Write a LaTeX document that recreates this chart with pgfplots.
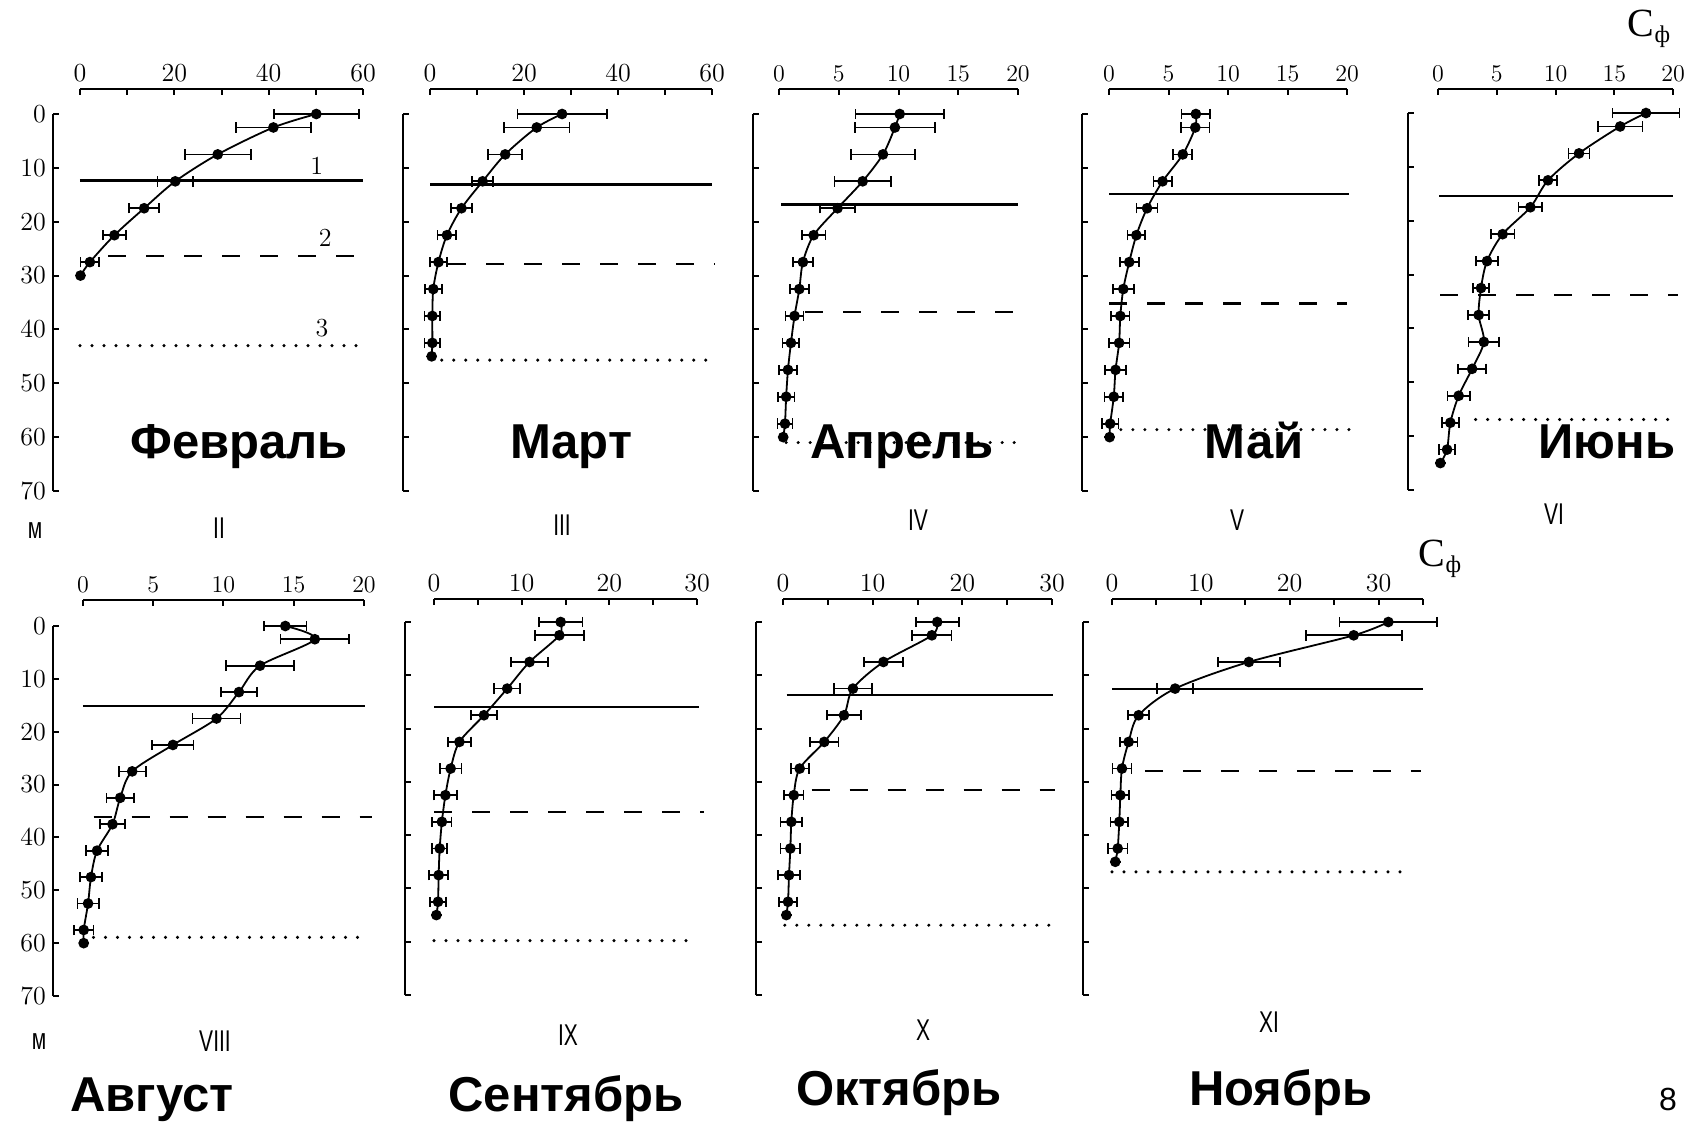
\documentclass[border=0pt]{standalone}
\usepackage{pgfplots}
\usepackage{pgfplotstable}
\pgfplotsset{compat=1.18}
\usepackage{fontspec}
\newfontfamily\sansf{Liberation Sans}
\newfontfamily\seriff{Liberation Serif}

\pgfplotstableread{
x d e
50.1 0 9.0
41.0 2.5 7.9
29.2 7.5 7.0
20.2 12.5 3.8
13.6 17.5 3.2
7.3 22.5 2.4
2.1 27.5 2.0
0.1 30 0
}\Feb
\pgfplotstableread{
x d e
28.1 0 9.5
22.7 2.5 7.0
16.0 7.5 3.6
11.2 12.5 2.2
6.7 17.5 2.3
3.6 22.5 2.0
1.8 27.5 1.8
0.7 32.5 1.8
0.5 37.5 1.7
0.5 42.5 1.7
0.35 45 0
}\Mar
\pgfplotstableread{
x d e
10.1 0 3.7
9.7 2.5 3.35
8.7 7.5 2.7
7.0 12.5 2.35
4.9 17.5 1.45
2.9 22.5 1.0
2.0 27.5 0.85
1.7 32.5 0.8
1.3 37.5 0.75
1.0 42.5 0.7
0.75 47.5 0.77
0.6 52.5 0.7
0.5 57.5 0.63
0.35 60 0
}\Apr
\pgfplotstableread{
x d e
7.3 0 1.2
7.25 2.5 1.2
6.2 7.5 0.8
4.5 12.5 0.77
3.2 17.5 0.88
2.3 22.5 0.75
1.7 27.5 0.8
1.2 32.5 0.88
0.95 37.5 0.77
0.85 42.5 0.87
0.55 47.5 0.87
0.4 52.5 0.77
0.1 57.5 0.7
0.05 60 0
}\May
\pgfplotstableread{
x d e
17.7 0 2.85
15.5 2.5 1.9
12.0 7.5 0.9
9.36 12.5 0.75
7.86 17.5 1.0
5.5 22.5 1.0
4.17 27.5 0.92
3.66 32.5 0.67
3.46 37.5 0.9
3.9 42.5 1.3
2.9 47.5 1.2
1.76 52.5 0.95
1.05 57.5 0.74
0.77 62.5 0.68
0.2 65 0
}\Jun
\pgfplotstableread{
x d e
14.4 0 1.5
16.5 2.5 2.45
12.6 7.5 2.4
11.1 12.5 1.3
9.5 17.5 1.7
6.4 22.5 1.47
3.5 27.5 0.96
2.65 32.5 0.97
2.1 37.5 0.9
1.0 42.5 0.78
0.57 47.5 0.76
0.36 52.5 0.76
0.05 57.5 0.7
0.05 60 0
}\Aug
\pgfplotstableread{
x d e
14.45 0 2.5
14.3 2.5 2.8
10.9 7.5 2.1
8.35 12.5 1.47
5.7 17.5 1.5
2.9 22.5 1.28
1.9 27.5 1.24
1.3 32.5 1.3
0.9 37.5 1.1
0.65 42.5 0.86
0.53 47.5 1.1
0.46 52.5 0.9
0.27 55 0
}\Sep
\pgfplotstableread{
x d e
17.2 0 2.4
16.6 2.5 2.2
11.2 7.5 2.2
7.8 12.5 2.1
6.8 17.5 1.9
4.6 22.5 1.6
1.86 27.5 1.0
1.2 32.5 1.1
0.93 37.5 1.2
0.82 42.5 1.1
0.67 47.5 1.2
0.56 52.5 1.0
0.37 55 0
}\Oct
\pgfplotstableread{
x d e
31.1 0 5.5
27.2 2.5 5.4
15.4 7.5 3.5
7.1 12.5 2.0
3.0 17.5 1.2
1.87 22.5 1.0
1.12 27.5 1.07
0.94 32.5 1.0
0.82 37.5 1.0
0.64 42.5 1.1
0.37 45 0
}\Nov

\pgfplotsset{
  panel/.style={
    scale only axis, clip=false,
    axis x line=top, axis y line=left,
    axis line style={-, line width=1.1pt, black},
    tick align=inside, major tick length=3pt,
    tick style={line width=1pt, black},
    ymin=-70, ytick={-70,-60,...,0},
    yticklabels={},
    ticklabel style={font=\fontsize{13}{15}\selectfont},
    anchor=south west,
  },
  prof/.style={black, line width=0.9pt, smooth, mark=*, mark size=2.2pt,
    error bars/.cd, x dir=both, x explicit,
    error bar style={line width=0.85pt, solid},
    error mark options={rotate=90, mark size=2.6pt, line width=0.85pt}},
  sol/.style={black, line width=1.1pt},
  das/.style={black, line width=1.1pt, dash pattern=on 9pt off 10pt},
  dot/.style={black, line width=1.7pt, line cap=round, dash pattern=on 0pt off 6pt},
}

\begin{document}
\begin{tikzpicture}
\useasboundingbox (0,0) rectangle (845.5pt,-560.5pt);

% ---------- Feb
\begin{axis}[panel, at={(26.5pt,-245.5pt)}, width=155pt, height=201pt,
  xmin=-5.724, xmax=60, ymax=4.642,
  x axis line style={shorten <=13.5pt}, y axis line style={shorten >=12.5pt},
  xtick={0,10,...,60}, xticklabels={0,,20,,40,,60},
  yticklabels={70,60,50,40,30,20,10,0}]
\addplot[prof] table[x=x, y expr=-\thisrow{d}, x error=e] {\Feb};
\addplot[sol] coordinates {(0,-12.35) (60,-12.35)};
\addplot[das] coordinates {(6,-26.3) (60,-26.3)};
\addplot[dot] coordinates {(0,-43) (60.5,-43)};
\node[font=\fontsize{13}{15}\selectfont] at (axis cs:50.2,-9.6) {1};
\node[font=\fontsize{13}{15}\selectfont] at (axis cs:52,-23.0) {2};
\node[font=\fontsize{13}{15}\selectfont] at (axis cs:51.3,-39.8) {3};
\end{axis}

% ---------- Mar
\begin{axis}[panel, at={(201.5pt,-245.5pt)}, width=154.5pt, height=201pt,
  xmin=-5.745, xmax=60, ymax=4.642,
  x axis line style={shorten <=13.5pt}, y axis line style={shorten >=12.5pt},
  xtick={0,10,...,60}, xticklabels={0,,20,,40,,60}]
\addplot[prof] table[x=x, y expr=-\thisrow{d}, x error=e] {\Mar};
\addplot[sol] coordinates {(0,-13.1) (60,-13.1)};
\addplot[das] coordinates {(3.9,-27.8) (60.5,-27.8)};
\addplot[dot] coordinates {(2.5,-45.7) (60,-45.7)};
\end{axis}

% ---------- Apr
\begin{axis}[panel, at={(376.5pt,-245.5pt)}, width=132.5pt, height=201pt,
  xmin=-2.176, xmax=20, ymax=4.642,
  x axis line style={shorten <=13pt}, y axis line style={shorten >=12.5pt},
  xtick={0,5,...,20}]
\addplot[prof] table[x=x, y expr=-\thisrow{d}, x error=e] {\Apr};
\addplot[sol] coordinates {(0.2,-16.8) (20,-16.8)};
\addplot[das] coordinates {(2.2,-36.8) (20.2,-36.8)};
\addplot[dot] coordinates {(0.6,-61) (20.3,-61)};
\end{axis}

% ---------- May
\begin{axis}[panel, at={(541pt,-245.5pt)}, width=132.5pt, height=201pt,
  xmin=-2.269, xmax=20, ymax=4.642,
  x axis line style={shorten <=13.5pt}, y axis line style={shorten >=12.5pt},
  xtick={0,5,...,20}]
\addplot[prof] table[x=x, y expr=-\thisrow{d}, x error=e] {\May};
\addplot[sol] coordinates {(0,-14.8) (20.2,-14.8)};
\addplot[das] coordinates {(0,-35.2) (20,-35.2)};
\addplot[dot] coordinates {(1,-58.6) (20.2,-58.6)};
\end{axis}

% ---------- Jun
\begin{axis}[panel, at={(704pt,-245pt)}, width=132.5pt, height=200.5pt,
  xmin=-2.553, xmax=20, ymax=4.456,
  x axis line style={shorten <=15pt}, y axis line style={shorten >=12pt},
  xtick={0,5,...,20}]
\addplot[prof] table[x=x, y expr=-\thisrow{d}, x error=e] {\Jun};
\addplot[sol] coordinates {(0.1,-15.4) (20,-15.4)};
\addplot[das] coordinates {(0.2,-33.8) (20.4,-33.8)};
\addplot[dot] coordinates {(3.2,-56.9) (20,-56.9)};
\end{axis}

% ---------- Aug
\begin{axis}[panel, at={(26.5pt,-498pt)}, width=155.5pt, height=198pt,
  xmin=-2.135, xmax=20, ymax=4.919,
  x axis line style={shorten <=15pt}, y axis line style={shorten >=13pt},
  xtick={0,5,...,20},
  yticklabels={70,60,50,40,30,20,10,0}]
\addplot[prof] table[x=x, y expr=-\thisrow{d}, x error=e] {\Aug};
\addplot[sol] coordinates {(0,-15.2) (20.1,-15.2)};
\addplot[das] coordinates {(0.75,-36.2) (20.6,-36.2)};
\addplot[dot] coordinates {(0.75,-58.9) (20.2,-58.9)};
\end{axis}

% ---------- Sep
\begin{axis}[panel, at={(202.5pt,-497.5pt)}, width=146pt, height=198pt,
  xmin=-3.308, xmax=30, ymax=4.316,
  x axis line style={shorten <=14.5pt}, y axis line style={shorten >=11.5pt},
  xtick={0,5,...,30}, xticklabels={0,,10,,20,,30}]
\addplot[prof] table[x=x, y expr=-\thisrow{d}, x error=e] {\Sep};
\addplot[sol] coordinates {(0,-15.9) (30.2,-15.9)};
\addplot[das] coordinates {(0,-35.7) (30.8,-35.7)};
\addplot[dot] coordinates {(0,-59.8) (29.5,-59.8)};
\end{axis}

% ---------- Oct
\begin{axis}[panel, at={(378pt,-497.5pt)}, width=148pt, height=198pt,
  xmin=-3.011, xmax=30, ymax=4.316,
  x axis line style={shorten <=13.5pt}, y axis line style={shorten >=11.5pt},
  xtick={0,5,...,30}, xticklabels={0,,10,,20,,30}]
\addplot[prof] table[x=x, y expr=-\thisrow{d}, x error=e] {\Oct};
\addplot[sol] coordinates {(0.4,-13.7) (30.1,-13.7)};
\addplot[das] coordinates {(3.2,-31.5) (30.3,-31.5)};
\addplot[dot] coordinates {(0.2,-56.9) (30.2,-56.9)};
\end{axis}

% ---------- Nov
\begin{axis}[panel, at={(541.5pt,-497.5pt)}, width=170pt, height=198pt,
  xmin=-3.264, xmax=35, ymax=4.316,
  x axis line style={shorten <=14.5pt}, y axis line style={shorten >=11.5pt},
  xtick={0,5,...,35}, xticklabels={0,,10,,20,,30,}]
\addplot[prof] table[x=x, y expr=-\thisrow{d}, x error=e] {\Nov};
\addplot[sol] coordinates {(0,-12.6) (35,-12.6)};
\addplot[das] coordinates {(3.7,-27.9) (34.8,-27.9)};
\addplot[dot] coordinates {(0,-46.9) (33.7,-46.9)};
\end{axis}

% ---------- roman numerals and units
\begin{scope}[every node/.style={font=\sansf\fontsize{15}{17}\selectfont, xscale=0.7, inner sep=0pt}]
\node at (17.5pt,-265.5pt) {м};
\node at (109.5pt,-264pt) {II};
\node at (281pt,-262.5pt) {III};
\node at (459pt,-260pt) {IV};
\node at (618.5pt,-260pt) {V};
\node at (777pt,-257pt) {VI};
\node at (19.5pt,-521pt) {м};
\node at (107.5pt,-520.5pt) {VIII};
\node at (284pt,-517.5pt) {IX};
\node at (461.5pt,-515pt) {X};
\node at (634.5pt,-511pt) {XI};
\end{scope}

% ---------- C_phi
\node[font=\seriff\fontsize{20}{22}\selectfont, inner sep=0pt] at (824.5pt,-14.5pt) {C\raisebox{-0.35ex}{\fontsize{12}{12}\selectfont ф}};
\node[font=\seriff\fontsize{20}{22}\selectfont, inner sep=0pt] at (720pt,-279.5pt) {C\raisebox{-0.35ex}{\fontsize{12}{12}\selectfont ф}};

% ---------- month names
\begin{scope}[every node/.style={font=\sansf\bfseries\fontsize{24.5}{28}\selectfont, anchor=base, inner sep=0pt}]
\node at (119.5pt,-229pt) {Февраль};
\node at (285.5pt,-229pt) {Март};
\node at (451pt,-229pt) {Апрель};
\node at (627pt,-229pt) {Май};
\node at (803.5pt,-229pt) {Июнь};
\node at (76pt,-555.5pt) {Август};
\node at (283pt,-555.5pt) {Сентябрь};
\node at (449.5pt,-552.5pt) {Октябрь};
\node at (640.5pt,-552.5pt) {Ноябрь};
\end{scope}

\node[font=\sansf\fontsize{16}{18}\selectfont, anchor=base, inner sep=0pt] at (834pt,-555pt) {8};
\end{tikzpicture}
\end{document}
